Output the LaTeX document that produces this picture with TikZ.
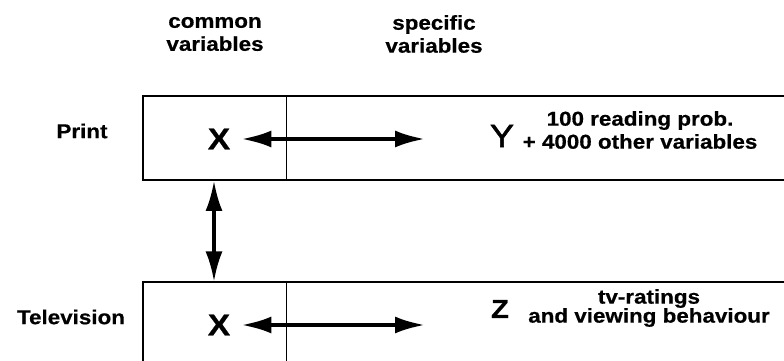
\documentclass[tikz,border=0pt]{standalone}
\usepackage{fontspec}
\setmainfont{Liberation Sans}[FakeStretch=1.12, BoldFeatures={FakeBold=0.6}]
\usetikzlibrary{arrows.meta,positioning}

\begin{document}
\begin{tikzpicture}[x=1pt, y=1pt,
    every node/.style={font=\bfseries\fontsize{20}{23}\selectfont, inner sep=0pt},
    rowbox/.style={draw, line width=1.6pt, anchor=south west, minimum width=680pt, minimum height=84pt},
    bigletter/.style={font=\bfseries\fontsize{30}{30}\selectfont, inner xsep=11pt},
    link/.style={line width=3.8pt, {Latex[length=30pt,width=17pt]}-{Latex[length=30pt,width=17pt]}}]
  \useasboundingbox (0,0) rectangle (784,361);
  \clip (0,0) rectangle (784,361);
  % column headers
  \node[align=center] (hcommon) at (215,327) {common\\variables};
  \node[align=center] (hspecific) at (434,327) {specific\\variables};
  % print row
  \node[rowbox] (prow) at (142,180) {};
  \draw[line width=1pt] ([xshift=144pt]prow.north west) -- ([xshift=144pt]prow.south west);
  \node (plabel) at (82,230) {Print};
  \node[bigletter] (px) at (219,222) {X};
  \coordinate (pend) at (425,222);
  \draw[link] (px.east) -- (pend);
  \node[font=\fontsize{32}{32}\selectfont\addfontfeatures{FakeBold=1.8}] (py) at (502,225) {Y};
  \node[align=center] (pnote) at (640,231) {100 reading prob.\\+ 4000 other variables};
  % television row
  \node[rowbox] (trow) at (142,-6) {};
  \draw[line width=1pt] ([xshift=144pt]trow.north west) -- ([xshift=144pt]trow.south west);
  \node (tlabel) at (71,44) {Television};
  \node[bigletter] (tx) at (219,36) {X};
  \coordinate (tend) at (425,36);
  \draw[link] (tx.east) -- (tend);
  \node[font=\bfseries\fontsize{26}{26}\selectfont] (tz) at (500,52) {Z};
  \node[align=center, font=\bfseries\fontsize{20}{19}\selectfont] (tnote) at (649,53) {tv-ratings\\and viewing behaviour};
  % link between the two media
  \draw[link, line width=3.2pt] ([xshift=-5pt]prow.south west -| px) -- ([xshift=-5pt]trow.north west -| tx);
\end{tikzpicture}
\end{document}
